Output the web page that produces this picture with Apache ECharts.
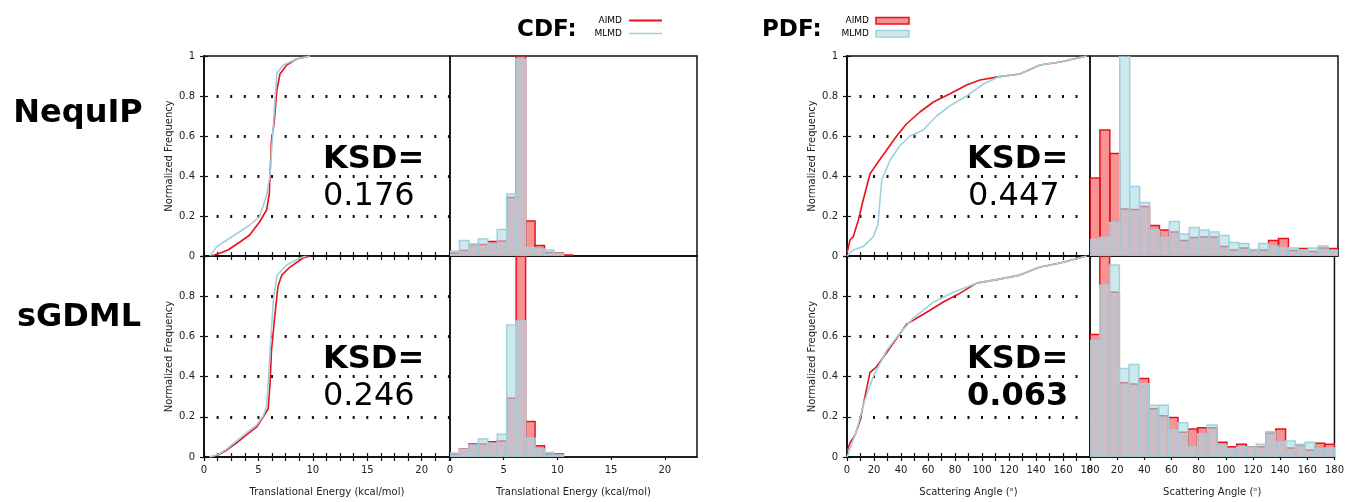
<!DOCTYPE html>
<html><head><meta charset="utf-8">
<script src="https://cdn.jsdelivr.net/npm/echarts@6/dist/echarts.min.js"></script>
<style>html,body{margin:0;padding:0;background:#fff}#c{width:1347px;height:502px}</style>
</head><body><div id="c"></div>
<script>
// ---------- DATA ----------
const ROW_LABELS = ['NequIP', 'sGDML'];
const KSD_ENERGY = ['0.176', '0.246'];
const KSD_ANGLE = ['0.447', '0.063'];
const ENERGY_NAME = 'Translational Energy (kcal/mol)';
const ANGLE_NAME = 'Scattering Angle (ᵒ)';

// CDF curves [x, cumulative fraction]
const cdfNequipEnergyAimd = [[0.7,0],[1.5,0.015],[2.2,0.03],[3.3,0.07],[4.2,0.105],[5.1,0.17],[5.75,0.23],[6.0,0.31],[6.07,0.41],[6.2,0.58],[6.43,0.66],[6.7,0.83],[6.98,0.91],[7.6,0.955],[8.5,0.985],[9.75,1.0]];
const cdfNequipEnergyMlmd = [[0.55,0],[1.17,0.047],[2.1,0.08],[3.1,0.115],[4.2,0.155],[5.1,0.197],[5.75,0.30],[6.07,0.41],[6.37,0.66],[6.7,0.915],[7.3,0.955],[8.5,0.985],[9.75,1.0]];
const cdfSgdmlEnergyAimd = [[0.55,0],[1.3,0.01],[2.1,0.035],[3.0,0.07],[3.9,0.11],[4.85,0.15],[5.45,0.2],[5.9,0.24],[6.07,0.37],[6.2,0.53],[6.5,0.70],[6.8,0.85],[7.15,0.905],[7.9,0.945],[9.1,0.99],[9.75,1.0]];
const cdfSgdmlEnergyMlmd = [[0.5,0],[1.3,0.012],[2.1,0.04],[3.0,0.08],[3.9,0.12],[4.85,0.16],[5.45,0.205],[5.75,0.25],[5.9,0.37],[6.07,0.53],[6.37,0.78],[6.7,0.905],[7.6,0.955],[8.8,0.99],[9.4,1.0]];
const cdfNequipAngleAimd = [[0,0.013],[2.2,0.08],[4.7,0.097],[8.4,0.18],[12,0.28],[17,0.41],[22,0.46],[29.4,0.53],[36.8,0.60],[44,0.66],[54,0.72],[64,0.77],[76,0.81],[88.6,0.855],[98.5,0.88],[113,0.897],[128,0.91],[143,0.955],[158,0.97],[177.5,1.0]];
const cdfNequipAngleMlmd = [[0,0],[4.7,0.03],[12,0.047],[19.5,0.097],[23,0.16],[25.7,0.38],[32,0.48],[39,0.55],[46.7,0.60],[56.5,0.63],[66.4,0.70],[76,0.75],[88.6,0.80],[101,0.86],[113,0.897],[128,0.91],[143,0.955],[158,0.97],[177.5,1.0]];
const cdfSgdmlAngleAimd = [[0,0.027],[2.2,0.07],[6,0.11],[9.6,0.18],[13.3,0.30],[17,0.42],[22,0.45],[29.4,0.52],[36.8,0.59],[44,0.66],[54,0.70],[61.5,0.73],[71,0.77],[83.7,0.815],[96,0.865],[113,0.885],[128,0.905],[143,0.945],[158,0.965],[177.5,1.0]];
const cdfSgdmlAngleMlmd = [[0,0],[7,0.13],[13,0.28],[19.5,0.40],[29.4,0.53],[39,0.615],[49,0.69],[64,0.77],[78.7,0.82],[96,0.865],[113,0.885],[128,0.905],[143,0.945],[158,0.965],[177.5,1.0]];

// Histogram bin edges
const energyBinEdges = [0,0.88,1.76,2.64,3.52,4.4,5.28,6.16,7.04,7.92,8.8,9.68,10.56,11.44,12.32,13.2,14.08,14.96,15.84,16.72,17.6,18.48,19.36,20.24,21.12,22];
const angleBinEdges = [0,7.2,14.4,21.6,28.8,36,43.2,50.4,57.6,64.8,72,79.2,86.4,93.6,100.8,108,115.2,122.4,129.6,136.8,144,151.2,158.4,165.6,172.8,180];

// Histogram heights (normalized)
const pdfNequipEnergyAimd = [0.015,0.027,0.058,0.058,0.072,0.075,0.293,1.05,0.175,0.052,0.018,0.015,0.005,0,0,0,0,0,0,0,0,0,0,0,0];
const pdfNequipEnergyMlmd = [0.025,0.077,0.06,0.085,0.06,0.133,0.31,0.985,0.043,0.035,0.03,0.013,0,0,0,0,0,0,0,0,0,0,0,0,0];
const pdfSgdmlEnergyAimd = [0.015,0.04,0.065,0.065,0.076,0.08,0.292,1.05,0.176,0.056,0.015,0.015,0,0,0,0,0,0,0,0,0,0,0,0,0];
const pdfSgdmlEnergyMlmd = [0.02,0.038,0.06,0.09,0.068,0.113,0.657,0.677,0.093,0.04,0.023,0.01,0,0,0,0,0,0,0,0,0,0,0,0,0];
const pdfNequipAngleAimd = [0.39,0.63,0.513,0.235,0.233,0.247,0.152,0.13,0.12,0.077,0.092,0.095,0.095,0.047,0.03,0.04,0.03,0.03,0.077,0.087,0.027,0.037,0.022,0.04,0.037];
const pdfNequipAngleMlmd = [0.083,0.093,0.167,1.05,0.347,0.267,0.13,0.092,0.172,0.11,0.143,0.13,0.12,0.102,0.068,0.063,0.033,0.063,0.05,0.04,0.04,0.03,0.04,0.05,0.027];
const pdfSgdmlAngleAimd = [0.61,1.05,0.82,0.37,0.363,0.39,0.24,0.205,0.197,0.123,0.139,0.146,0.146,0.073,0.051,0.063,0.051,0.051,0.12,0.139,0.045,0.06,0.035,0.068,0.063];
const pdfSgdmlAngleMlmd = [0.58,0.855,0.955,0.44,0.46,0.365,0.257,0.257,0.134,0.17,0.05,0.115,0.159,0.06,0.04,0.05,0.05,0.063,0.126,0.073,0.08,0.063,0.073,0.04,0.045];

// ---------- STYLE ----------
const FONT = 'DejaVu Sans';
const RED = '#e8121c';
const BLUE = '#9fd1dc';
const RED_FILL = 'rgba(240,40,40,0.5)';
const BLUE_FILL = 'rgba(173,216,230,0.6)';
const TXT = '#222';

const chart = echarts.init(document.getElementById('c'), null, {renderer: 'canvas'});

const panels = [
  {kind:'cdf', left:204, top:56, width:246, height:200, xmax:22.6, step:1.25, every:5, bottom:false, name:ENERGY_NAME, a:cdfNequipEnergyAimd, m:cdfNequipEnergyMlmd},
  {kind:'pdf', left:450, top:56, width:247, height:200, xmax:23, step:5, bottom:false, name:ENERGY_NAME, edges:energyBinEdges, a:pdfNequipEnergyAimd, m:pdfNequipEnergyMlmd},
  {kind:'cdf', left:204, top:256, width:246, height:201, xmax:22.6, step:1.25, every:5, bottom:true, name:ENERGY_NAME, a:cdfSgdmlEnergyAimd, m:cdfSgdmlEnergyMlmd},
  {kind:'pdf', left:450, top:256, width:247, height:201, xmax:23, step:5, bottom:true, name:ENERGY_NAME, edges:energyBinEdges, a:pdfSgdmlEnergyAimd, m:pdfSgdmlEnergyMlmd},
  {kind:'cdf', left:847, top:56, width:243, height:200, xmax:180, step:10, every:20, bottom:false, name:ANGLE_NAME, a:cdfNequipAngleAimd, m:cdfNequipAngleMlmd},
  {kind:'pdf', left:1090, top:56, width:248, height:200, xmax:180, step:20, bottom:false, name:ANGLE_NAME, edges:angleBinEdges, a:pdfNequipAngleAimd, m:pdfNequipAngleMlmd},
  {kind:'cdf', left:847, top:256, width:243, height:201, xmax:180, step:10, every:20, bottom:true, name:ANGLE_NAME, a:cdfSgdmlAngleAimd, m:cdfSgdmlAngleMlmd},
  {kind:'pdf', left:1090, top:256, width:248, height:201, xmax:180, step:20, bottom:true, name:ANGLE_NAME, edges:angleBinEdges, a:pdfSgdmlAngleAimd, m:pdfSgdmlAngleMlmd}
];

const grid = [], xAxis = [], yAxis = [], series = [];
const lbl = {fontFamily: FONT, fontSize: 10, color: TXT};

function histSeries(xi, yi, edges, vals, fill, stroke, z) {
  const data = vals.map((v, i) => [edges[i], edges[i+1], v]);
  return {
    type: 'custom', xAxisIndex: xi, yAxisIndex: yi, clip: true, z: z, silent: true,
    data: data,
    encode: {x: [0, 1], y: 2},
    renderItem: function (params, api) {
      const h = api.value(2);
      if (!(h > 0)) return null;
      const p0 = api.coord([api.value(0), 0]);
      const p1 = api.coord([api.value(1), h]);
      return {
        type: 'rect',
        shape: {x: p0[0], y: p1[1], width: p1[0] - p0[0], height: p0[1] - p1[1]},
        style: {fill: fill, stroke: stroke, lineWidth: 1.5}
      };
    }
  };
}

panels.forEach((p, gi) => {
  grid.push({left: p.left, top: p.top, width: p.width, height: p.height, show: true,
    borderColor: '#111', borderWidth: 1.5, backgroundColor: 'transparent', containLabel: false});
  if (p.kind === 'cdf') {
    const period = p.width * p.step / p.xmax;
    const xb = xAxis.length;
    xAxis.push({
      type: 'value', gridIndex: gi, position: 'bottom', min: 0, max: p.xmax, interval: p.step,
      axisLine: {show: true, lineStyle: {color: '#111', width: 1.5}},
      axisTick: {show: true, inside: true, length: 4, lineStyle: {color: '#111', width: 1.2}},
      axisLabel: {show: p.bottom, margin: 8, ...lbl,
        formatter: v => (Math.abs(v / p.every - Math.round(v / p.every)) < 1e-6) ? String(Math.round(v)) : ''},
      splitLine: {show: false},
      name: p.bottom ? p.name : '', nameLocation: 'middle', nameGap: 30,
      nameTextStyle: {fontFamily: FONT, fontSize: 10, color: TXT}
    });
    xAxis.push({
      type: 'value', gridIndex: gi, position: 'top', min: 0, max: p.xmax, interval: p.step,
      axisLine: {show: true, lineStyle: {color: '#111', width: 1.5}},
      axisTick: {show: true, inside: true, length: 4, lineStyle: {color: '#111', width: 1.2}},
      axisLabel: {show: false}, splitLine: {show: false}
    });
    const yl = yAxis.length;
    yAxis.push({
      type: 'value', gridIndex: gi, position: 'left', min: 0, max: 1, interval: 0.2,
      axisLine: {show: true, lineStyle: {color: '#111', width: 1.5}},
      axisTick: {show: true, inside: true, length: 4, lineStyle: {color: '#111', width: 1.2}},
      axisLabel: {show: true, margin: 9, showMaxLabel: !p.bottom, ...lbl},
      splitLine: {show: true, showMinLine: false, showMaxLine: false,
        lineStyle: {color: '#111', width: 3, type: [2, period - 2], dashOffset: 1}},
      name: 'Normalized Frequency', nameLocation: 'middle', nameGap: 30,
      nameTextStyle: {fontFamily: FONT, fontSize: 10, color: TXT}
    });
    yAxis.push({
      type: 'value', gridIndex: gi, position: 'right', min: 0, max: 1, interval: 0.2,
      axisLine: {show: true, lineStyle: {color: '#111', width: 1.5}},
      axisTick: {show: true, inside: true, length: 4, lineStyle: {color: '#111', width: 1.2}},
      axisLabel: {show: false}, splitLine: {show: false}
    });
    series.push({type: 'line', xAxisIndex: xb, yAxisIndex: yl, data: p.a, showSymbol: false,
      lineStyle: {color: RED, width: 1.6}, clip: true, silent: true, z: 3});
    series.push({type: 'line', xAxisIndex: xb, yAxisIndex: yl, data: p.m, showSymbol: false,
      lineStyle: {color: BLUE, width: 1.6}, clip: true, silent: true, z: 4});
  } else {
    const xb = xAxis.length;
    xAxis.push({
      type: 'value', gridIndex: gi, position: 'bottom', min: 0, max: p.xmax, interval: p.step,
      axisLine: {show: true, lineStyle: {color: '#111', width: 1.5}},
      axisTick: {show: p.bottom, inside: false, length: 3, lineStyle: {color: '#111', width: 1.2}},
      axisLabel: {show: p.bottom, margin: 8, showMaxLabel: p.xmax === 180, ...lbl},
      splitLine: {show: false},
      name: p.bottom ? p.name : '', nameLocation: 'middle', nameGap: 30,
      nameTextStyle: {fontFamily: FONT, fontSize: 10, color: TXT}
    });
    const yl = yAxis.length;
    yAxis.push({
      type: 'value', gridIndex: gi, min: 0, max: 1, interval: 0.2,
      axisLine: {show: false}, axisTick: {show: false}, axisLabel: {show: false}, splitLine: {show: false}
    });
    series.push(histSeries(xb, yl, p.edges, p.a, RED_FILL, RED, 2));
    series.push(histSeries(xb, yl, p.edges, p.m, BLUE_FILL, BLUE, 3));
  }
});

function txt(text, x, y, font, align, extra) {
  return Object.assign({type: 'text', z: 100, silent: true,
    style: {text: text, x: x, y: y, font: font, fill: '#000',
      textAlign: align, align: align, textVerticalAlign: 'middle', verticalAlign: 'middle'}}, extra || {});
}

const graphics = [
  txt(ROW_LABELS[0], 78, 114, 'bold 32px "DejaVu Sans"', 'center'),
  txt(ROW_LABELS[1], 79, 318, 'bold 32px "DejaVu Sans"', 'center'),
  txt('KSD=', 323, 160, 'bold 32px "DejaVu Sans"', 'left'),
  txt(KSD_ENERGY[0], 323, 197, '32px "DejaVu Sans"', 'left'),
  txt('KSD=', 323, 360, 'bold 32px "DejaVu Sans"', 'left'),
  txt(KSD_ENERGY[1], 323, 397, '32px "DejaVu Sans"', 'left'),
  txt('KSD=', 967, 160, 'bold 32px "DejaVu Sans"', 'left'),
  txt(KSD_ANGLE[0], 968, 197, '32px "DejaVu Sans"', 'left'),
  txt('KSD=', 967, 360, 'bold 32px "DejaVu Sans"', 'left'),
  txt(KSD_ANGLE[1], 967, 397, 'bold 32px "DejaVu Sans"', 'left'),
  // legend
  txt('CDF:', 517, 30, 'bold 23px "DejaVu Sans"', 'left'),
  txt('AIMD', 622, 21, '9px "DejaVu Sans"', 'right'),
  txt('MLMD', 622, 34, '9px "DejaVu Sans"', 'right'),
  {type: 'line', silent: true, shape: {x1: 629, y1: 20.5, x2: 662, y2: 20.5}, style: {stroke: RED, lineWidth: 2}},
  {type: 'line', silent: true, shape: {x1: 629, y1: 33.5, x2: 662, y2: 33.5}, style: {stroke: BLUE, lineWidth: 1.6}},
  txt('PDF:', 762, 30, 'bold 23px "DejaVu Sans"', 'left'),
  txt('AIMD', 869, 21, '9px "DejaVu Sans"', 'right'),
  txt('MLMD', 869, 34, '9px "DejaVu Sans"', 'right'),
  {type: 'rect', silent: true, shape: {x: 876, y: 17.5, width: 33, height: 6.5}, style: {fill: 'rgba(240,40,40,0.5)', stroke: RED, lineWidth: 1.5}},
  {type: 'rect', silent: true, shape: {x: 876, y: 30.5, width: 33, height: 6.5}, style: {fill: 'rgba(173,216,230,0.6)', stroke: BLUE, lineWidth: 1.5}}
];

chart.setOption({
  animation: false,
  backgroundColor: '#fff',
  textStyle: {fontFamily: FONT},
  grid: grid, xAxis: xAxis, yAxis: yAxis, series: series,
  graphic: {elements: graphics}
});
</script></body></html>
